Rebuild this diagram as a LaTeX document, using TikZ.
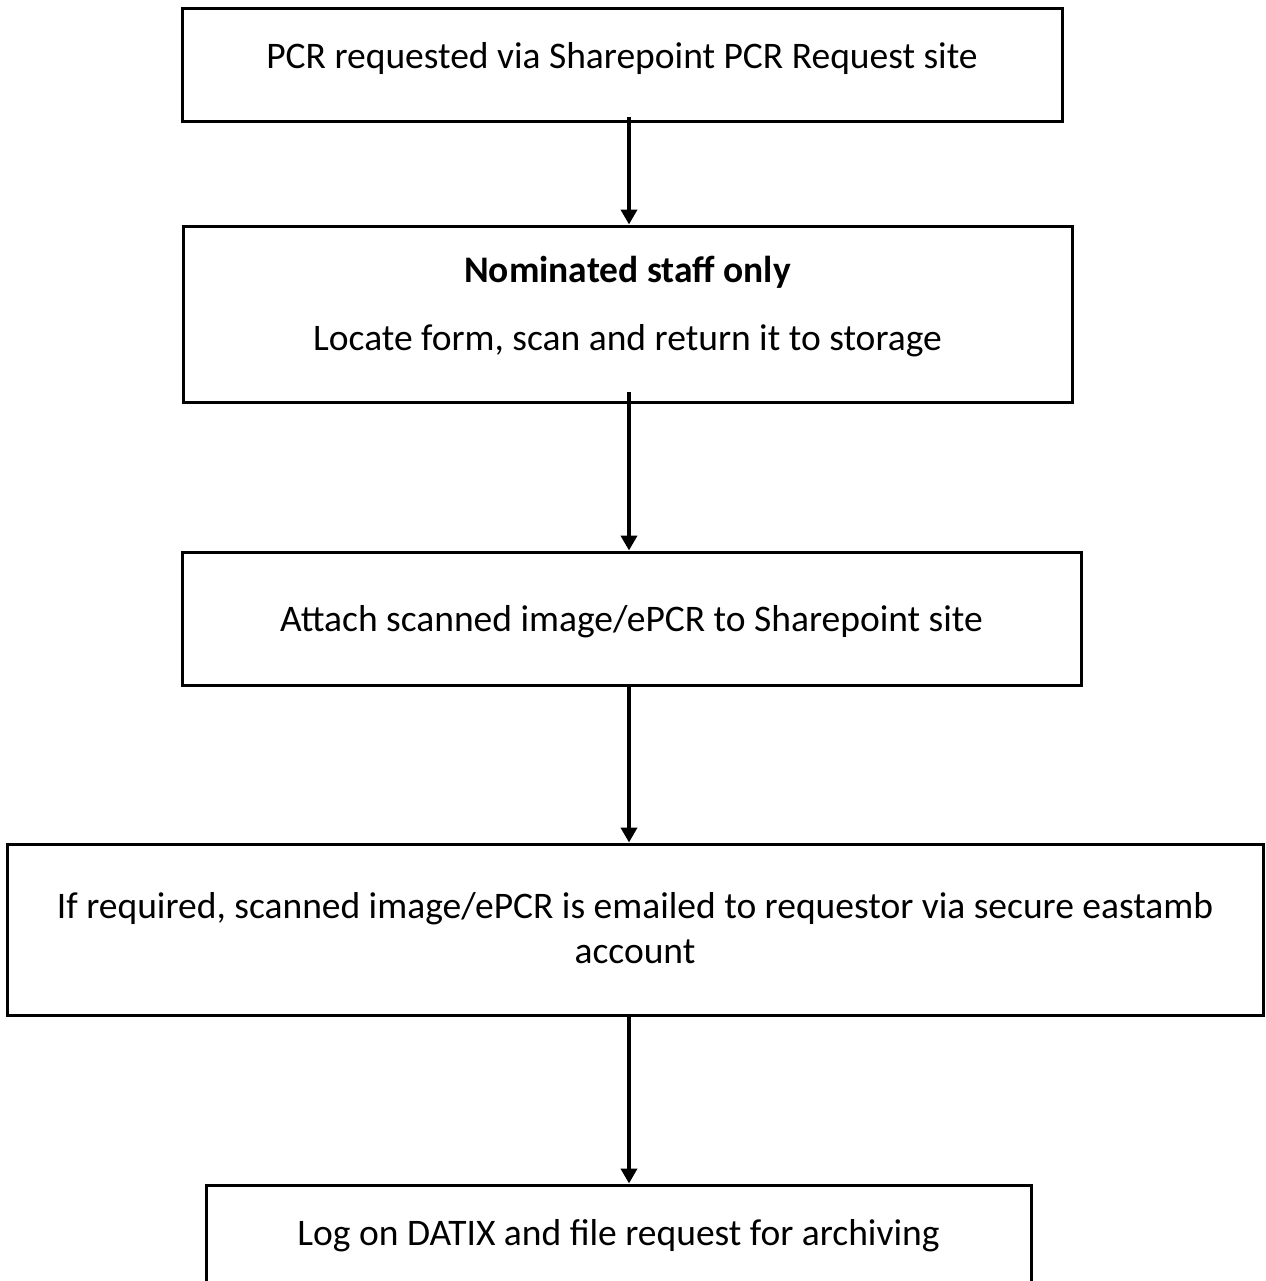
\documentclass[tikz,border=0pt]{standalone}
\usepackage{fontspec}
\setmainfont{Carlito}
\usetikzlibrary{arrows.meta}
\tikzset{
  stepbox/.style={draw, line width=1.5pt, align=center, inner sep=0pt,
    font=\fontsize{18.75}{22.5}\selectfont, text height=14pt},
  flow/.style={->, line width=2pt},
}
\begin{document}
\begin{tikzpicture}[x=0.5pt, y=-0.5pt, >={Triangle[width=8pt,length=7.5pt]}]
\useasboundingbox (0,0) rectangle (1265,1281);
% boxes, top to bottom
\node[stepbox, minimum width=440pt, minimum height=56.5pt, text depth=10.5pt] (request) at (622,64.5)
  {PCR requested via Sharepoint PCR Request site};
\node[stepbox, minimum width=444.5pt, minimum height=88pt, text height=45pt, text depth=9pt] (locate) at (627.5,314)
  {\textbf{Nominated staff only}\\[11.5pt]Locate form, scan and return it to storage};
\node[stepbox, minimum width=449.5pt, minimum height=66.5pt, text depth=1.5pt] (attach) at (631.5,618.5)
  {Attach scanned image/ePCR to Sharepoint site};
\node[stepbox, minimum width=628pt, minimum height=85.5pt, text height=40pt, text depth=6.5pt] (email) at (635,929.5)
  {If required, scanned image/ePCR is emailed to requestor via secure eastamb\\account};
\node[stepbox, minimum width=412.5pt, minimum height=60pt, text depth=14pt] (datix) at (618.5,1245)
  {Log on DATIX and file request for archiving};
% arrows down the middle
\coordinate (spine) at (629,0);
\draw[flow] ([yshift=3pt]request.south -| spine) -- (locate.north -| spine);
\draw[flow] ([yshift=6pt]locate.south -| spine) -- (attach.north -| spine);
\draw[flow] (attach.south -| spine) -- (email.north -| spine);
\draw[flow] (email.south -| spine) -- (datix.north -| spine);
\end{tikzpicture}
\end{document}
